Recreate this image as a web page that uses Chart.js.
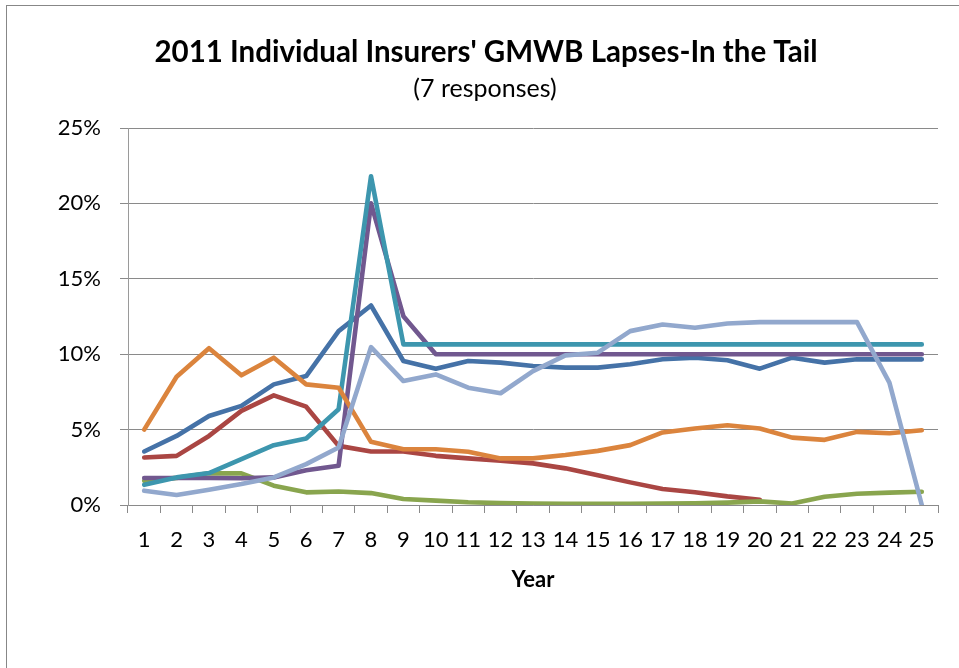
<!DOCTYPE html>
<html>
<head>
<meta charset="utf-8">
<script src="https://cdn.jsdelivr.net/npm/chart.js@4/dist/chart.umd.min.js"></script>
<style>
  html, body { margin: 0; padding: 0; background: #ffffff; }
  #wrap { width: 959px; height: 668px; position: relative; }
</style>
</head>
<body>
<div id="wrap"><canvas id="c" width="959" height="668"></canvas></div>
<script>
// Policy year on the horizontal axis
const years = ['1','2','3','4','5','6','7','8','9','10','11','12','13','14','15','16','17','18','19','20','21','22','23','24','25'];

// Lapse rates (%) by year for each responding insurer
const insurerA = [3.55, 4.58, 5.9, 6.57, 8.0, 8.55, 11.53, 13.23, 9.55, 9.04, 9.55, 9.44, 9.22, 9.11, 9.11, 9.33, 9.66, 9.77, 9.6, 9.04, 9.77, 9.44, 9.66, 9.66, 9.66];
const insurerB = [3.15, 3.26, 4.58, 6.24, 7.27, 6.52, 3.92, 3.55, 3.55, 3.26, 3.09, 2.93, 2.76, 2.43, 1.98, 1.5, 1.06, 0.85, 0.57, 0.35, null, null, null, null, null];
const insurerC = [1.6, 1.8, 2.1, 2.1, 1.28, 0.84, 0.9, 0.79, 0.4, 0.29, 0.18, 0.13, 0.1, 0.08, 0.08, 0.08, 0.1, 0.12, 0.16, 0.24, 0.1, 0.55, 0.75, 0.82, 0.88];
const insurerD = [1.79, 1.79, 1.79, 1.77, 1.83, 2.31, 2.6, 20.0, 12.52, 10.0, 10.0, 10.0, 10.0, 10.0, 10.0, 10.0, 10.0, 10.0, 10.0, 10.0, 10.0, 10.0, 10.0, 10.0, 10.0];
const insurerE = [1.34, 1.83, 2.12, 3.04, 3.97, 4.41, 6.35, 21.8, 10.65, 10.65, 10.65, 10.65, 10.65, 10.65, 10.65, 10.65, 10.65, 10.65, 10.65, 10.65, 10.65, 10.65, 10.65, 10.65, 10.65];
const insurerF = [5.0, 8.5, 10.4, 8.6, 9.77, 8.0, 7.78, 4.19, 3.7, 3.7, 3.53, 3.09, 3.09, 3.31, 3.59, 3.97, 4.81, 5.07, 5.29, 5.07, 4.47, 4.32, 4.85, 4.76, 4.96];
const insurerG = [0.95, 0.66, 1.01, 1.39, 1.83, 2.71, 3.81, 10.47, 8.22, 8.66, 7.78, 7.41, 8.88, 9.92, 10.1, 11.53, 11.97, 11.75, 12.04, 12.13, 12.13, 12.13, 12.13, 8.11, 0.0];

// Value-axis tick values (%)
const yTicks = [0, 5, 10, 15, 20, 25];

const titleText = "2011 Individual Insurers' GMWB Lapses-In the Tail";
const subtitleText = '(7 responses)';

const FONT = 'Lato, "Open Sans", "Liberation Sans", sans-serif';

const seriesList = [
  { label: 'Insurer A', data: insurerA, color: '#4572A7' },
  { label: 'Insurer B', data: insurerB, color: '#AA4643' },
  { label: 'Insurer C', data: insurerC, color: '#89A54E' },
  { label: 'Insurer D', data: insurerD, color: '#71588F' },
  { label: 'Insurer E', data: insurerE, color: '#3D96AE' },
  { label: 'Insurer F', data: insurerF, color: '#DB843D' },
  { label: 'Insurer G', data: insurerG, color: '#92A8CD' }
];

// Outer frame plus the two centred heading lines
const frameAndHeadings = {
  id: 'frameAndHeadings',
  beforeDraw(chart) {
    const ctx = chart.ctx;
    ctx.save();
    ctx.fillStyle = '#ffffff';
    ctx.fillRect(0, 0, chart.width, chart.height);
    ctx.strokeStyle = '#878787';
    ctx.lineWidth = 1;
    ctx.strokeRect(6.5, 5.5, chart.width + 20, chart.height + 20);
    ctx.restore();
  },
  afterDraw(chart) {
    const ctx = chart.ctx;
    ctx.save();
    ctx.fillStyle = '#000000';
    ctx.textAlign = 'center';
    ctx.textBaseline = 'middle';
    ctx.font = 'bold 29.5px ' + FONT;
    ctx.fillText(titleText, 486, 52);
    ctx.font = '25px ' + FONT;
    ctx.fillText(subtitleText, 485, 89);
    ctx.restore();
  }
};

new Chart(document.getElementById('c'), {
  type: 'line',
  data: {
    labels: years,
    datasets: seriesList.map((s, i) => ({
      label: s.label,
      data: s.data,
      borderColor: s.color,
      backgroundColor: s.color,
      borderWidth: 4.6,
      pointRadius: 0,
      tension: 0,
      fill: false,
      spanGaps: false,
      borderCapStyle: 'round',
      borderJoinStyle: 'round',
      order: seriesList.length - i
    }))
  },
  options: {
    responsive: false,
    animation: false,
    devicePixelRatio: 1,
    layout: { padding: { left: 0, right: 21, top: 128, bottom: 0 } },
    plugins: {
      legend: { display: false },
      title: { display: false },
      tooltip: { enabled: false }
    },
    scales: {
      x: {
        type: 'category',
        offset: true,
        grid: { offset: true, drawOnChartArea: false, drawTicks: true, tickLength: 8, color: '#8a8a8a', lineWidth: 1 },
        border: { display: true, color: '#8a8a8a', width: 1 },
        ticks: { color: '#000000', font: { family: FONT, size: 22 }, padding: 14, maxRotation: 0, autoSkip: false },
        title: { display: true, text: 'Year', color: '#000000', font: { family: FONT, size: 22, weight: 'bold' }, padding: { top: 0, bottom: 75 } },
        afterFit(scale) { scale.height = 163; }
      },
      y: {
        min: 0,
        max: 25,
        afterBuildTicks(scale) { scale.ticks = yTicks.map(v => ({ value: v })); },
        ticks: { color: '#000000', font: { family: FONT, size: 22 }, padding: 19, callback: v => v + '%' },
        grid: { color: '#8a8a8a', lineWidth: 1, tickLength: 8 },
        border: { display: true, color: '#9a9a9a', width: 1 },
        afterFit(scale) { scale.width = 128; }
      }
    }
  },
  plugins: [frameAndHeadings]
});
</script>
</body>
</html>
